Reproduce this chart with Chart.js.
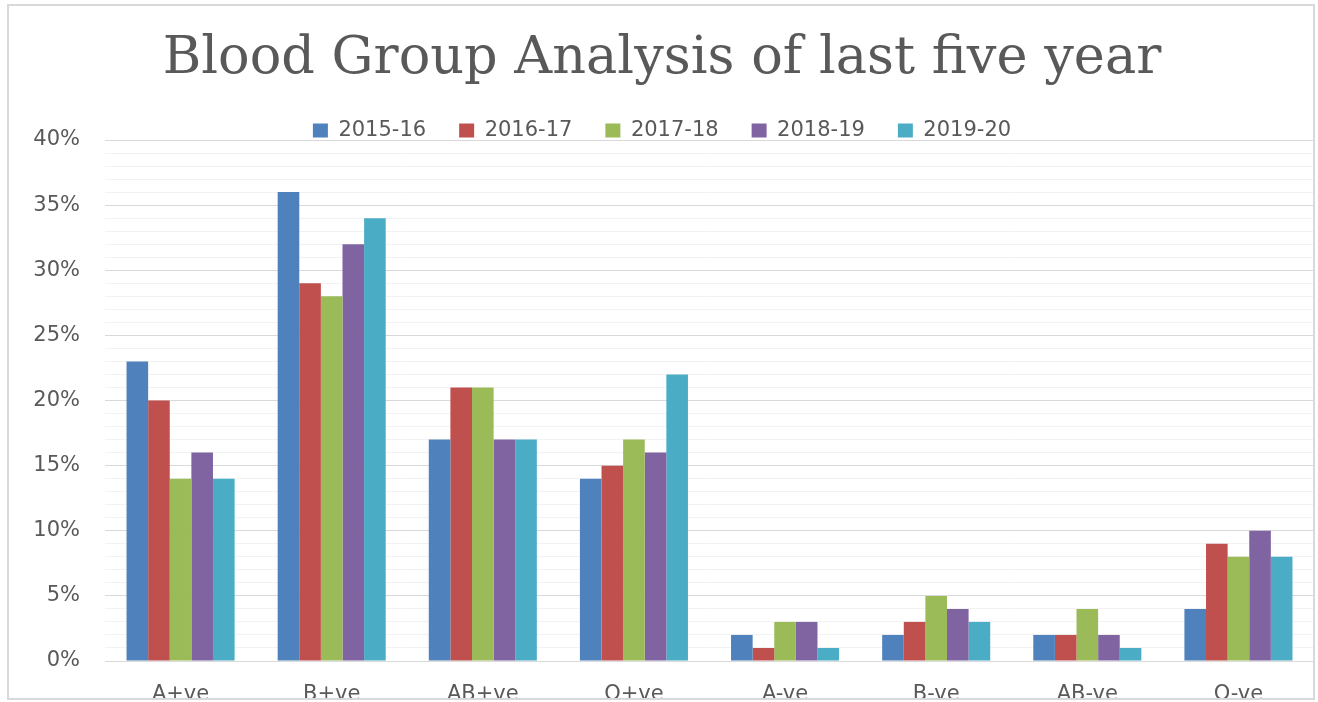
<!DOCTYPE html>
<html>
<head>
<meta charset="utf-8">
<script src="https://cdn.jsdelivr.net/npm/chart.js@4/dist/chart.umd.min.js"></script>
<style>
  html, body { margin: 0; padding: 0; background: #ffffff; }
  #clip { position: absolute; left: 0; top: 0; width: 1318px; height: 698px; overflow: hidden; background: #ffffff; }
  #wrap { position: absolute; left: 0; top: 0; width: 1318px; height: 740px; }
  #frame { position: absolute; left: 7px; top: 4px; width: 1304px; height: 692px; border: 2px solid #d9d9d9; pointer-events: none; }
</style>
</head>
<body>
<div id="clip">
  <div id="wrap"><canvas id="c"></canvas></div>
</div>
<div id="frame"></div>
<script>
const chartTitle = 'Blood Group Analysis of last five year';
const categories = ['A+ve', 'B+ve', 'AB+ve', 'O+ve', 'A-ve', 'B-ve', 'AB-ve', 'O-ve'];
const seriesNames = ['2015-16', '2016-17', '2017-18', '2018-19', '2019-20'];
const values2015_16 = [23, 36, 17, 14, 2, 2, 2, 4];
const values2016_17 = [20, 29, 21, 15, 1, 3, 2, 9];
const values2017_18 = [14, 28, 21, 17, 3, 5, 4, 8];
const values2018_19 = [16, 32, 17, 16, 3, 4, 2, 10];
const values2019_20 = [14, 34, 17, 22, 1, 3, 1, 8];
const yMin = 0, yMax = 40, yMinorStep = 1, yMajorStep = 5;

const colors = ['#4F81BD', '#C0504D', '#9BBB59', '#8064A2', '#4BACC6'];
const allValues = [values2015_16, values2016_17, values2017_18, values2018_19, values2019_20];

const textColor = '#595959';

const legendShrink = {
  id: 'legendShrink',
  beforeInit(chart) {
    if (!chart.legend) return;
    const origFit = chart.legend.fit;
    chart.legend.fit = function () {
      origFit.call(this);
      this.height -= 11;
    };
  }
};

new Chart(document.getElementById('c'), {
  type: 'bar',
  data: {
    labels: categories,
    datasets: seriesNames.map((name, i) => ({
      label: name,
      data: allValues[i],
      backgroundColor: colors[i],
      borderWidth: 0,
      categoryPercentage: 0.715,
      barPercentage: 1.0
    }))
  },
  plugins: [legendShrink],
  options: {
    responsive: true,
    maintainAspectRatio: false,
    animation: false,
    layout: { padding: { left: 10, right: 4, top: 0, bottom: 0 } },
    plugins: {
      title: {
        display: true,
        text: chartTitle,
        color: textColor,
        font: { family: 'DejaVu Serif', size: 52.5, weight: 'normal', lineHeight: 1.0 },
        padding: { top: 33, bottom: 1.5 }
      },
      legend: {
        display: true,
        position: 'top',
        labels: {
          color: textColor,
          font: { family: 'DejaVu Sans', size: 21 },
          boxWidth: 15,
          boxHeight: 14,
          padding: 33
        }
      },
      tooltip: { enabled: false }
    },
    scales: {
      x: {
        grid: { display: false, drawTicks: false },
        border: { display: false },
        ticks: {
          color: textColor,
          font: { family: 'DejaVu Sans', size: 21 },
          padding: 21,
          maxRotation: 0,
          autoSkip: false
        },
        afterFit(scale) { scale.height = 79; }
      },
      y: {
        min: yMin,
        max: yMax,
        border: { display: false },
        grid: {
          drawTicks: false,
          color: (ctx) => (ctx.tick && ctx.tick.value % yMajorStep === 0) ? '#d9d9d9' : '#f2f2f2',
          lineWidth: 1
        },
        ticks: {
          stepSize: yMinorStep,
          autoSkip: false,
          color: textColor,
          font: { family: 'DejaVu Sans', size: 21 },
          padding: 25,
          callback: (v) => (v % yMajorStep === 0) ? v + '%' : ''
        },
        afterFit(scale) { scale.width = 95; }
      }
    }
  }
});
</script>
</body>
</html>
